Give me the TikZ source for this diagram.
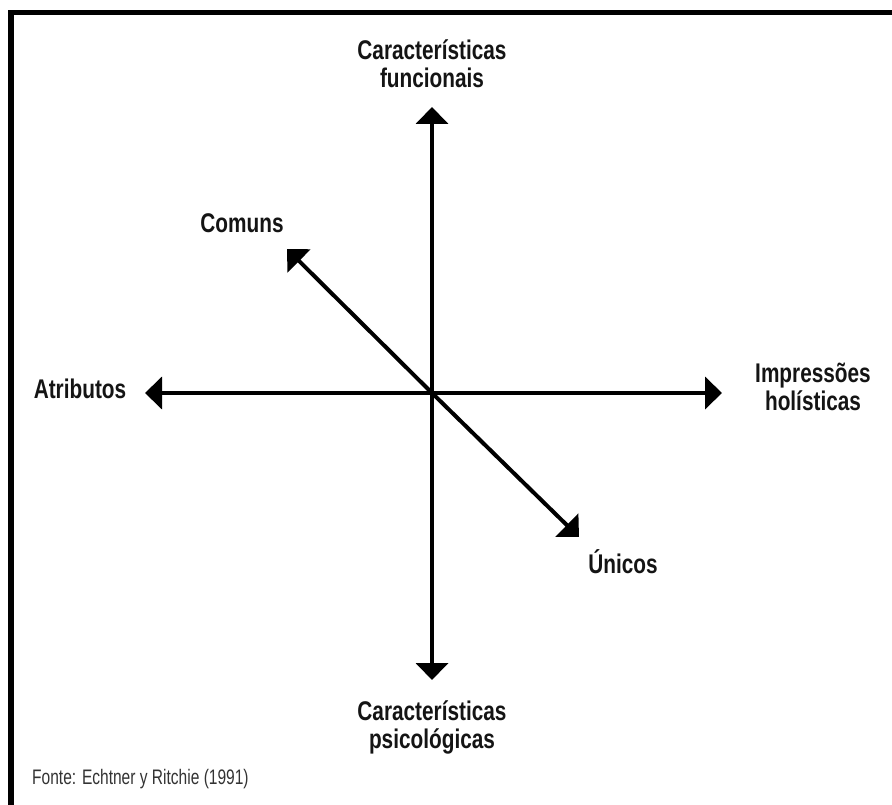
\documentclass[tikz,border=0pt]{standalone}
\usepackage{fontspec}
\newfontfamily\lblfont{Liberation Sans}[FakeStretch=0.77]
\newfontfamily\srcfont{Liberation Sans}[FakeStretch=0.74]
\usetikzlibrary{arrows.meta}
\begin{document}
\begin{tikzpicture}[x=1pt,y=-1pt,
  axis/.style={line width=4pt,{Triangle[length=17pt,width=32pt]}-{Triangle[length=17pt,width=32pt]}},
  ray/.style={line width=4pt,-{Triangle[length=17pt,width=32pt]}},
  lbl/.style={inner sep=0pt,align=center,anchor=base,text=black!92,
    font=\lblfont\fontsize{27}{28}\selectfont\bfseries},
  src/.style={inner sep=0pt,anchor=base west,text=black!80,
    font=\srcfont\fontsize{21}{22}\selectfont}]
  \useasboundingbox (0,0) rectangle (892,805);
  \fill[white] (0,0) rectangle (892,805);
  % frame on the left and top edges
  \draw[line width=5.5pt] (11,805) -- (11,12.5) -- (892,12.5);

  % axes
  \coordinate (o) at (432,393);
  \coordinate (n) at (432,107);
  \coordinate (s) at (432,680);
  \coordinate (w) at (145,393);
  \coordinate (e) at (722,393);
  \coordinate (nw) at (287,249);
  \coordinate (se) at (579,537);
  \draw[axis] (s) -- (n);
  \draw[axis] (w) -- (e);
  \draw[ray] (o) -- (nw);
  \draw[ray] (o) -- (se);

  % axis labels (base anchor sits on the last line)
  \node[lbl] (fun) at (432,88) {Características\\funcionais};
  \node[lbl] (psi) at (432,748) {Características\\psicológicas};
  \node[lbl] (atr) at (80,398) {Atributos};
  \node[lbl] (imp) at (813,410) {Impressões\\holísticas};
  \node[lbl] (com) at (242,233) {Comuns};
  \node[lbl] (uni) at (623,573) {Únicos};

  \node[src] (fonte) at (32,784) {Fonte: Echtner y Ritchie (1991)};
\end{tikzpicture}
\end{document}
